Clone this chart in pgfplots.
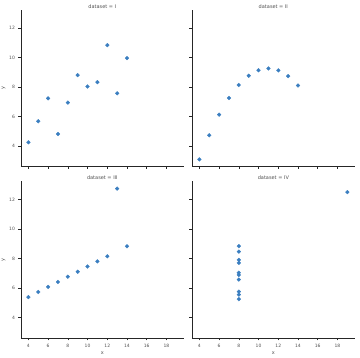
\documentclass[border=0pt]{standalone}
\usepackage{pgfplots}
\pgfplotsset{compat=1.18}
\usepackage{fontspec}
\setmainfont{DejaVu Sans}
\definecolor{pt}{RGB}{58,126,192}
\definecolor{ink}{RGB}{38,38,38}
\pgfplotsset{
  panel/.style={
    scale only axis, width=162.7pt, height=156.5pt,
    xmin=3.25, xmax=19.75, ymin=2.62, ymax=13.22,
    axis x line*=bottom, axis y line*=left,
    axis line style={ink, line width=0.8pt},
    xtick={4,6,...,18}, ytick={4,6,...,12},
    tick align=outside, major tick length=2.5pt,
    tick style={ink, line width=0.6pt},
    every tick label/.style={font=\fontsize{4.5}{5}\selectfont, text=ink!80},
    /pgf/number format/assume math mode=true,
    title style={font=\fontsize{5}{6}\selectfont, text=ink!80, yshift=-8pt},
    label style={font=\fontsize{5}{6}\selectfont, text=ink!80},
    xlabel style={yshift=3pt},
    ylabel style={yshift=-3pt},
    xticklabel style={yshift=-0.5pt},
  },
  pts/.style={only marks, mark=*, mark size=1.9pt, mark options={solid, fill=pt, draw=pt, line width=0.3pt}},
}
\begin{document}
\begin{tikzpicture}
\useasboundingbox (0pt,0pt) rectangle (360pt,358pt);
% I
\begin{axis}[panel, at={(21pt,191.5pt)}, anchor=south west, title={dataset = I}, ylabel={y}, xticklabels={}]
\addplot[pts] coordinates {(10,8.04)(8,6.95)(13,7.58)(9,8.81)(11,8.33)(14,9.96)(6,7.24)(4,4.26)(12,10.84)(7,4.82)(5,5.68)};
\end{axis}
% II
\begin{axis}[panel, at={(192pt,191.5pt)}, anchor=south west, title={dataset = II}, xticklabels={}, yticklabels={}]
\addplot[pts] coordinates {(10,9.14)(8,8.14)(13,8.74)(9,8.77)(11,9.26)(14,8.10)(6,6.13)(4,3.10)(12,9.13)(7,7.26)(5,4.74)};
\end{axis}
% III
\begin{axis}[panel, at={(21pt,20pt)}, anchor=south west, title={dataset = III}, ylabel={y}, xlabel={x}]
\addplot[pts] coordinates {(10,7.46)(8,6.77)(13,12.74)(9,7.11)(11,7.81)(14,8.84)(6,6.08)(4,5.39)(12,8.15)(7,6.42)(5,5.73)};
\end{axis}
% IV
\begin{axis}[panel, at={(192pt,20pt)}, anchor=south west, title={dataset = IV}, xlabel={x}, yticklabels={}]
\addplot[pts] coordinates {(8,6.58)(8,5.76)(8,7.71)(8,8.84)(8,8.47)(8,7.04)(8,5.25)(19,12.50)(8,5.56)(8,7.91)(8,6.89)};
\end{axis}
\end{tikzpicture}
\end{document}
